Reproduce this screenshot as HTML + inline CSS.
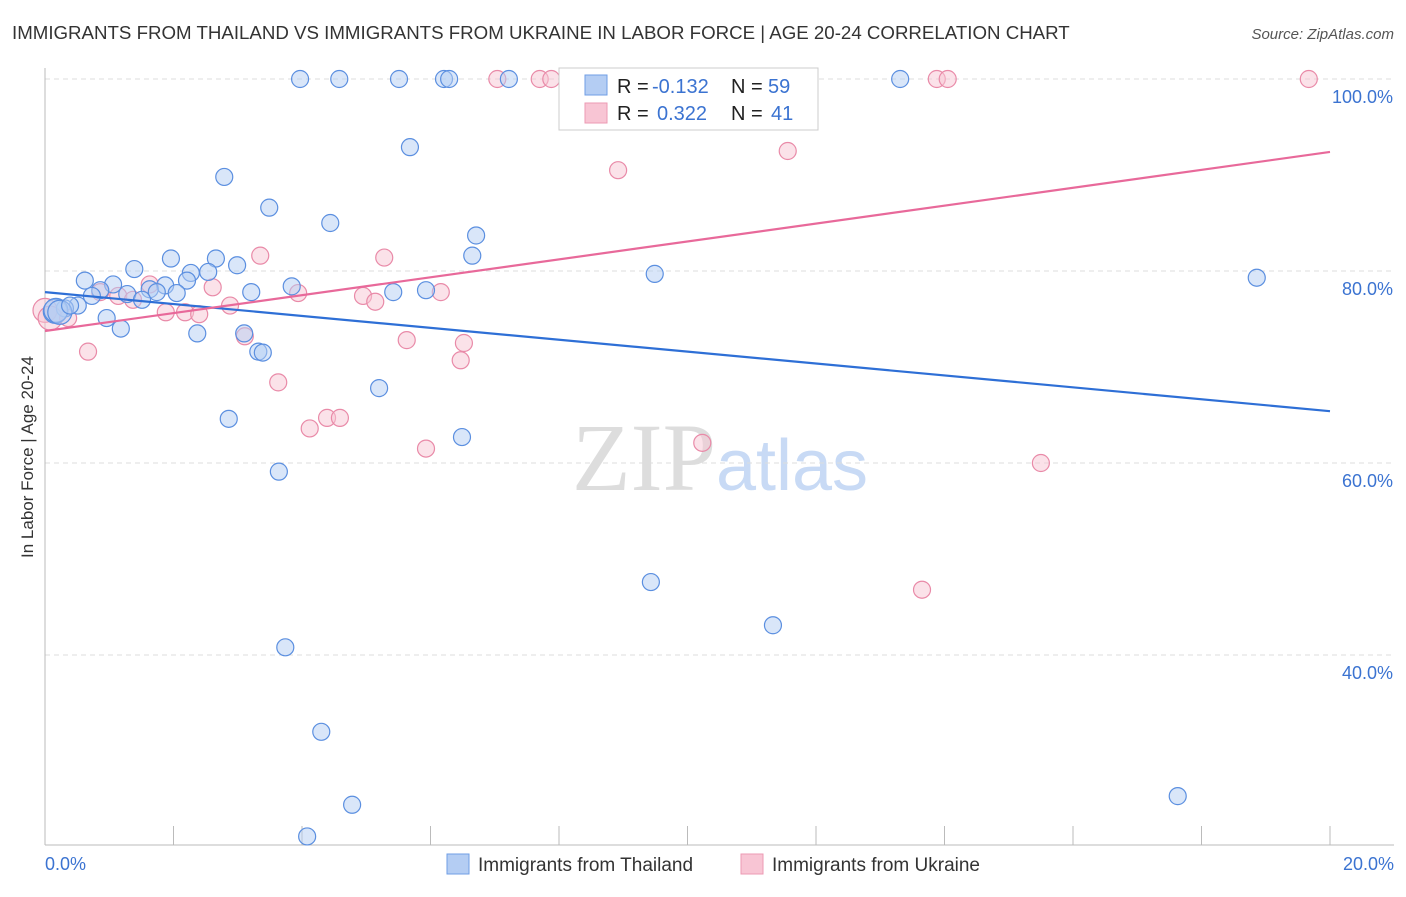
<!DOCTYPE html>
<html><head><meta charset="utf-8"><style>
body{margin:0;background:#fff;font-family:"Liberation Sans",sans-serif}
</style></head><body>
<svg id="chart" width="1406" height="892" xmlns="http://www.w3.org/2000/svg" font-family="Liberation Sans, sans-serif">
<text x="12" y="39" font-size="18.7" fill="#333">IMMIGRANTS FROM THAILAND VS IMMIGRANTS FROM UKRAINE IN LABOR FORCE | AGE 20-24 CORRELATION CHART</text>
<text x="1394" y="39" font-size="15" fill="#555" text-anchor="end" font-style="italic">Source: ZipAtlas.com</text>
<text transform="translate(33,457) rotate(-90)" font-size="17" fill="#333" text-anchor="middle">In Labor Force | Age 20-24</text>
<text x="720" y="490" font-size="96" text-anchor="middle" fill="#ddd" font-family="Liberation Serif, serif">ZIP<tspan fill="#c8daf5" font-family="Liberation Sans, sans-serif" font-size="72">atlas</tspan></text>
<g id="grid"></g><g id="marks"></g>
<g>
<rect x="559" y="68" width="259" height="62" fill="#fff" stroke="#ccc"/>
<rect x="585" y="75" width="22" height="20" fill="#b4cdf3" stroke="#6f9ee6"/>
<rect x="585" y="103" width="22" height="20" fill="#f8c5d4" stroke="#ec9ab3"/>
<text x="617" y="93" font-size="20" fill="#222">R =</text>
<text x="652" y="93" font-size="20" fill="#3b73d1">-0.132</text>
<text x="731" y="93" font-size="20" fill="#222">N =</text>
<text x="768" y="93" font-size="20" fill="#3b73d1">59</text>
<text x="617" y="120" font-size="20" fill="#222">R =</text>
<text x="657" y="120" font-size="20" fill="#3b73d1">0.322</text>
<text x="731" y="120" font-size="20" fill="#222">N =</text>
<text x="771" y="120" font-size="20" fill="#3b73d1">41</text>
</g>
<g>
<rect x="447" y="854" width="22" height="20" fill="#b4cdf3" stroke="#6f9ee6"/>
<text x="478" y="871" font-size="19" fill="#333">Immigrants from Thailand</text>
<rect x="741" y="854" width="22" height="20" fill="#f8c5d4" stroke="#ec9ab3"/>
<text x="772" y="871" font-size="19" fill="#333">Immigrants from Ukraine</text>
</g>
</svg>
<script>
const thaiX=[3.97,4.58,5.51,6.21,6.29,7.22,13.31,5.68,2.79,3.49,4.44,6.71,6.65,1.96,2.66,2.99,1.39,2.27,2.54,9.49,18.86,0.62,1.06,2.21,1.87,3.84,1.63,1.74,0.86,0.73,1.28,1.51,2.05,3.21,5.42,5.93,0.51,0.31,0.16,0.96,1.18,2.37,3.10,3.32,3.39,5.20,2.86,6.49,3.64,9.43,11.33,3.74,4.30,4.78,4.08,17.63,0.17,0.23,0.39];
const thaiY=[100,100,100,100,100,100,100,92.9,89.8,86.6,85.0,83.7,81.6,81.3,81.3,80.6,80.2,79.8,79.9,79.7,79.3,79.0,78.6,79.0,78.5,78.4,78.1,77.8,78.0,77.4,77.6,77.0,77.7,77.8,77.8,78.0,76.4,76.1,75.8,75.1,74.0,73.5,73.5,71.6,71.5,67.8,64.6,62.7,59.1,47.6,43.1,40.8,32.0,24.4,21.1,25.3,75.9,75.7,76.4];
const ukrX=[0,0.08,0.36,0.67,0.86,1.14,1.37,1.63,1.88,2.18,2.40,2.61,2.88,3.11,3.35,3.63,3.94,4.12,4.39,4.59,4.95,5.14,5.28,5.63,5.93,6.16,6.47,6.52,7.04,7.70,7.88,8.30,9.21,8.92,10.23,10.80,11.56,13.88,14.05,13.65,15.50,19.67];
const ukrY=[75.9,75.1,75.1,71.6,77.8,77.4,77.0,78.6,75.7,75.7,75.5,78.3,76.4,73.2,81.6,68.4,77.7,63.6,64.7,64.7,77.4,76.8,81.4,72.8,61.5,77.8,70.7,72.5,100,100,100,99.4,100,90.5,62.1,100,92.5,100,100,46.8,60.0,100];
const trendThai=[77.8,65.4], trendUkr=[73.75,92.4];
const xTicks=[0,2,4,6,8,10,12,14,16,18,20];
const yTicks=[40,60,80,100];
const NS="http://www.w3.org/2000/svg";
const sx=v=>45+v/20*1285, sy=v=>79+(100-v)/20*192;
const grid=document.getElementById('grid'), marks=document.getElementById('marks');
function mk(tag,attrs,parent){const e=document.createElementNS(NS,tag);for(const k in attrs)e.setAttribute(k,attrs[k]);parent.appendChild(e);return e;}
yTicks.forEach(t=>{
 const l=mk('line',{x1:45,x2:1394,y1:sy(t),y2:sy(t),stroke:'#ddd','stroke-dasharray':'5,4'},grid);
 
 
 const tx=mk('text',{x:1393,y:sy(t)+24,'font-size':18,fill:'#3b73d1','text-anchor':'end'},grid);tx.textContent=t.toFixed(1)+'%';
 
 
});
const ax=mk('line',{x1:45,x2:45,y1:68,y2:845,stroke:'#bbb'},grid);


const bx=mk('line',{x1:45,x2:1394,y1:845,y2:845,stroke:'#bbb'},grid);


xTicks.forEach(t=>{
 const l=mk('line',{x1:sx(t),x2:sx(t),y1:826,y2:845,stroke:'#bbb'},grid);
 
 
});
[[0,'0.0%','start',45],[20,'20.0%','end',1394]].forEach(a=>{
 const tx=mk('text',{x:a[3],y:870,'font-size':18,fill:'#3b73d1','text-anchor':a[2]},grid);tx.textContent=a[1];
 
 
});
function pts(X,Y,fill,stroke,name){X.forEach((x,i)=>{
 const big=x<0.3&&Y[i]>74&&Y[i]<77;
 const c=mk('circle',{cx:sx(x),cy:sy(Y[i]),r:big?12:8.5,fill:fill,'fill-opacity':0.5,stroke:stroke,'stroke-width':1.2},marks);
 
 
});}
pts(ukrX,ukrY,'#f8c5d4','#e98aa8','ukraine-point');
pts(thaiX,thaiY,'#b4cdf3','#5b8fe0','thailand-point');
const l1=mk('line',{x1:sx(0),y1:sy(trendThai[0]),x2:sx(20),y2:sy(trendThai[1]),stroke:'#2e6fd6','stroke-width':2.2},marks);


const l2=mk('line',{x1:sx(0),y1:sy(trendUkr[0]),x2:sx(20),y2:sy(trendUkr[1]),stroke:'#e8699a','stroke-width':2.2},marks);


</script>
</body></html>
